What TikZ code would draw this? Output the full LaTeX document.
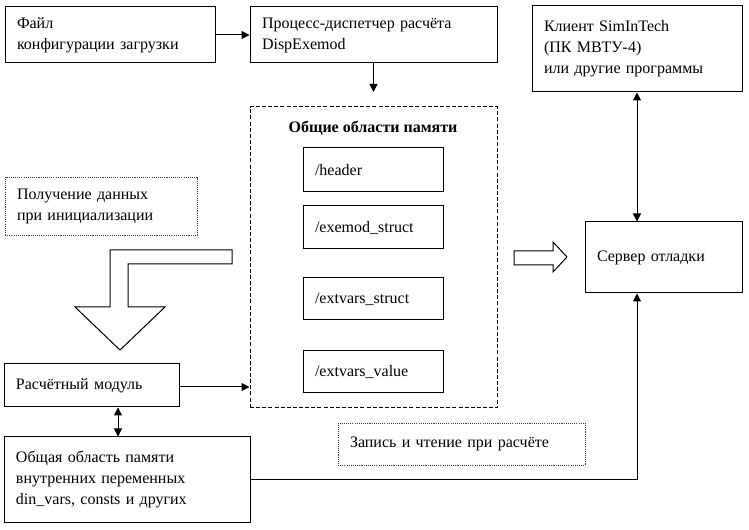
\documentclass[tikz,border=0pt]{standalone}
\usepackage{fontspec}
\setmainfont{Liberation Serif}
\usetikzlibrary{arrows.meta}

\tikzset{every picture/.style={line width=0.75pt}}
\tikzset{
  blk/.style 2 args={draw, rectangle, minimum width={0.75pt*#1}, minimum height={0.75pt*#2},
    text width={0.75pt*#1-18pt}, inner xsep=9pt, inner ysep=0pt, align=left},
  dotbox/.style={draw=black!75, line width=0.6pt, dash pattern=on 0.8pt off 0.8pt},
  dashbox/.style={dash pattern=on 3pt off 1.6pt},
  arr/.style={-{Triangle[length=6pt,width=6pt]}},
  dbl/.style={{Triangle[length=6pt,width=6pt]}-{Triangle[length=6pt,width=6pt]}},
}

\begin{document}
\begin{tikzpicture}[x=0.75pt,y=0.75pt,yscale=-1,xscale=1,font=\fontsize{12}{15.75}\selectfont]
        \useasboundingbox (0,0) rectangle (749,530);

        %Shape: Rectangle [config file]
        \node [blk={210}{56}] (cfg) at (110,35) {Файл\\конфигурации загрузки};
        %Shape: Rectangle [dispatcher]
        \node [blk={247}{56}] (disp) at (373.5,35) {Процесс-диспетчер расчёта\\DispExemod};
        %Shape: Rectangle [client]
        \node [blk={210}{86}] (client) at (637,49) {Клиент SimInTech\\(ПК МВТУ-4)\\или другие программы};
        %Shape: Rectangle [debug server]
        \node [blk={157}{71}] (srv) at (663.5,257.5) {Сервер отладки};

        %Shape: Rectangle [shared memory, dashed]
        \node [blk={247}{301}, dashbox] (shm) at (373.5,257.5) {};
        % Text Node
        \node [font=\fontsize{12}{15.75}\selectfont\bfseries, inner sep=0.75pt] (shmtitle) at (373,128) {Общие области памяти};
        \node [blk={140}{44}] (hdr) at (373,170) {/header};
        \node [blk={140}{43}] (exst) at (373,227.5) {/exemod\_struct};
        \node [blk={140}{42}] (evst) at (373,299) {/extvars\_struct};
        \node [blk={140}{42}] (evval) at (373,372) {/extvars\_value};

        %Shape: Rectangle [dotted notes]
        \node [blk={192}{58}, dotbox] (init) at (101,206) {Получение данных\\при инициализации};
        \node [blk={247}{42}, dotbox] (rw) at (461.5,444) {Запись и чтение при расчёте};

        %Shape: Rectangle [module and locals]
        \node [blk={175}{43}] (calc) at (91.5,385.5) {Расчётный модуль};
        \node [blk={246}{85}] (local) at (127,479.5) {Общая область памяти\\внутренних переменных\\din\_vars, consts и других};

        %Shape: Bent Arrow
        \draw (232,250) -- (110,250) -- (110,307) -- (75,307) -- (120,350) -- (165,307) -- (128,307) -- (128,264) -- (232,264) -- cycle ;
        %Shape: Right Arrow
        \draw (514,251) -- (553,251) -- (553,242) -- (567,257) -- (553,272) -- (553,265) -- (514,265) -- cycle ;

        %Straight Lines
        \coordinate (dispend) at (373.5,92);
        \draw [arr] (cfg.east) -- (disp.west) ;
        \draw [arr] (disp.south) -- (dispend) ;
        \draw [dbl] (client.south) -- (client.south |- srv.north) ;
        \draw [arr] (calc.east |- 0,387) -- (shm.west |- 0,387) ;
        \draw [dbl] (calc.south -| 118,0) -- (local.north -| 118,0) ;
        \draw [arr] (local.east) -| (client.south |- srv.south) ;

    \end{tikzpicture}
\end{document}
